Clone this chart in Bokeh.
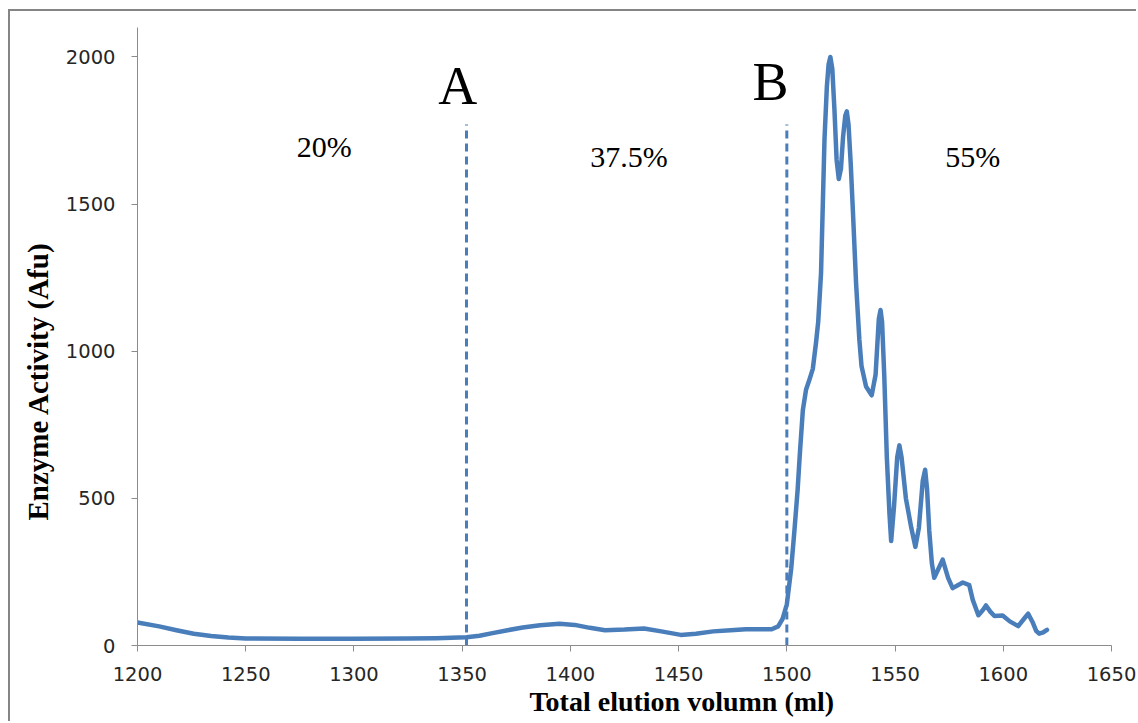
from bokeh.plotting import figure
from bokeh.models import Range1d, FixedTicker, Title
from bokeh.core.properties import value
from bokeh.embed import file_html
from bokeh.resources import INLINE

# ---- data ----
volume = [1200, 1210, 1218, 1226, 1234, 1242, 1250, 1275, 1300, 1325, 1338, 1352,
          1358, 1364, 1371, 1378, 1386, 1395, 1402, 1409, 1416, 1425, 1434, 1442,
          1451, 1458, 1466, 1474, 1481, 1488, 1493, 1496, 1498, 1500, 1502, 1503.5,
          1505, 1506, 1507.4, 1508.9, 1510.5, 1512, 1513.5, 1514.5, 1515.8, 1517.4,
          1518.5, 1519.3, 1520.1, 1521, 1522, 1523, 1524, 1525, 1526, 1527, 1527.7,
          1528.5, 1529.5, 1530.5, 1532, 1533.5, 1534.5, 1536.6, 1539.2, 1541, 1542.5,
          1543.3, 1544, 1545, 1546.2, 1547.4, 1548.2, 1549.5, 1551, 1552, 1553, 1555,
          1557.5, 1559.4, 1561, 1562.8, 1563.9, 1564.8, 1565.8, 1567, 1568.1, 1570,
          1572, 1574.5, 1576.6, 1579, 1581.3, 1584.3, 1585.9, 1588.5, 1590.5, 1592,
          1594, 1595.9, 1599.7, 1603, 1606.9, 1609.5, 1611.5, 1613.5, 1615.2, 1616.6,
          1618.5, 1620.2]
activity = [78, 65, 52, 40, 32, 27, 24, 23, 23, 24, 25, 28,
            33, 42, 52, 61, 69, 74, 70, 60, 52, 54, 58, 48,
            36, 40, 48, 52, 55, 55, 55, 65, 90, 140, 260, 390,
            530, 650, 800, 870, 905, 940, 1030, 1100, 1265, 1720,
            1900, 1975, 2000, 1960, 1820, 1650, 1585, 1620, 1730, 1800, 1815,
            1770, 1640, 1480, 1230, 1040, 950, 880, 850, 920, 1110,
            1140, 1100, 920, 640, 450, 355, 470, 640, 680, 640, 500,
            400, 335, 400, 560, 597, 530, 390, 280, 230, 260,
            292, 230, 195, 205, 214, 205, 155, 103, 120, 136,
            115, 100, 102, 82, 66, 90, 108, 80, 50, 40,
            45, 53]

boundary_volume = [1352, 1500]
boundary_top = 1770
boundary_names = ["A", "B"]
fraction_labels = ["20%", "37.5%", "55%"]

x_ticks = [1200, 1250, 1300, 1350, 1400, 1450, 1500, 1550, 1600, 1650]
y_ticks = [0, 500, 1000, 1500, 2000]

x_title = "Total elution volumn (ml)"
y_title = "Enzyme Activity (Afu)"

BLUE = "#4a7ebb"
GREY = "#8c8c8c"

p = figure(width=1128, height=712,
           x_range=Range1d(1200, 1650), y_range=Range1d(0, 2100),
           output_backend="svg", toolbar_location=None,
           min_border_left=126, min_border_right=27,
           min_border_top=16, min_border_bottom=78)
p.margin = (9, 0, 0, 8)
p.styles = {"border-left": "2px solid #858585", "border-top": "2px solid #858585"}

p.background_fill_color = "white"
p.border_fill_color = "white"
p.outline_line_color = None
p.xgrid.visible = False
p.ygrid.visible = False

# main curve
p.line(volume, activity, line_color=BLUE, line_width=4.5, line_join="round", line_cap="round")

# boundaries
p.segment(x0=boundary_volume, y0=[0, 0], x1=boundary_volume, y1=[boundary_top, boundary_top],
          line_color=BLUE, line_width=3, line_dash="8 5")

# annotation placement (not data)
name_x = [1348, 1492.5]
name_y = [1900, 1915]
p.text(x=name_x, y=name_y, text=boundary_names,
       text_font=value("Liberation Serif"), text_font_size="54px",
       text_align="center", text_baseline="middle", text_color="black")

frac_x = [1286.3, 1427.1, 1585.9]
frac_y = [1697, 1662, 1662]
p.text(x=frac_x, y=frac_y, text=fraction_labels,
       text_font=value("Liberation Serif"), text_font_size="30px",
       text_align="center", text_baseline="middle", text_color="black")

# axes
for ax in (p.xaxis[0], p.yaxis[0]):
    ax.axis_line_color = GREY
    ax.axis_line_width = 1
    ax.major_tick_line_color = GREY
    ax.major_tick_out = 6
    ax.major_tick_in = 0
    ax.minor_tick_out = 0
    ax.minor_tick_in = 0
    ax.major_label_text_font = "DejaVu Sans"
    ax.major_label_text_font_size = "19.5px"
    ax.major_label_text_color = "#262626"

p.xaxis.ticker = FixedTicker(ticks=x_ticks)
p.yaxis.ticker = FixedTicker(ticks=y_ticks)
p.xaxis.major_label_standoff = 15
p.yaxis.major_label_standoff = 16

p.add_layout(Title(text=x_title, align="left", offset=392,
                   text_font="Liberation Serif", text_font_style="bold",
                   text_font_size="28px", text_color="black", standoff=0), "below")
p.add_layout(Title(text=y_title, align="left", offset=125,
                   text_font="Liberation Serif", text_font_style="bold",
                   text_font_size="29px", text_color="black", standoff=18), "left")

open("out.html", "w").write(file_html(p, INLINE))
